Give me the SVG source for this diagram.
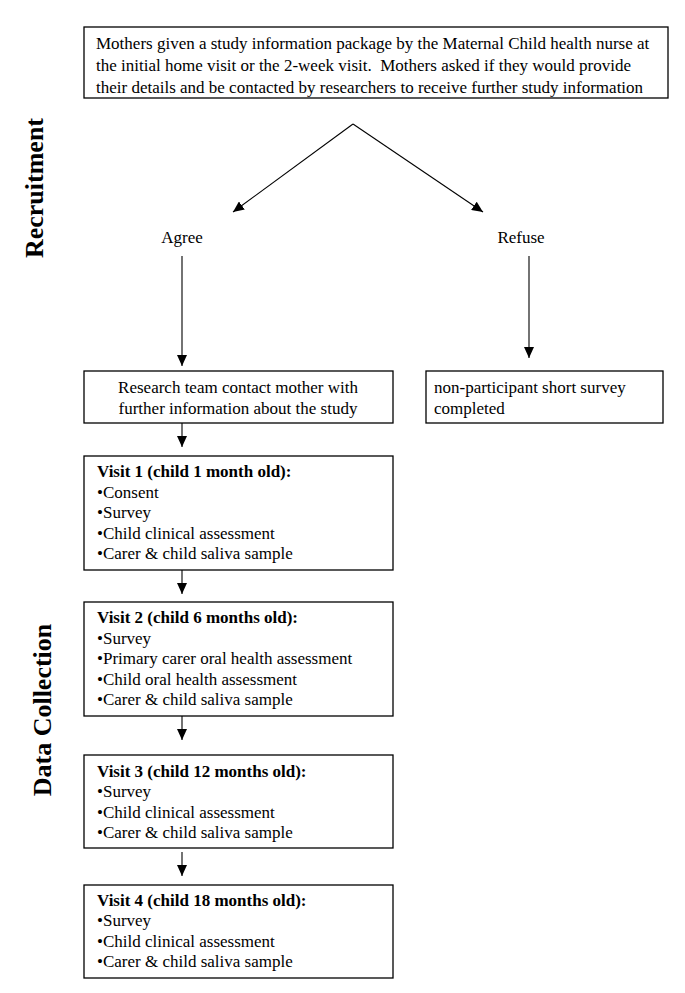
<svg xmlns="http://www.w3.org/2000/svg" width="685" height="993" viewBox="0 0 685 993">
<style>
text{font-family:"Liberation Serif","Times New Roman",serif;font-size:17px;fill:#000}
.b{font-weight:bold}
.side{font-weight:bold;font-size:26px}
.box{fill:#fff;stroke:#000;stroke-width:1.3}
.c line{stroke:#000;stroke-width:1.1;marker-end:url(#ah)}
</style>
<defs>
<marker id="ah" markerUnits="userSpaceOnUse" markerWidth="12" markerHeight="10" refX="11" refY="5" orient="auto">
<path d="M0,0 L11,5 L0,10 Z" fill="#000"/>
</marker>
</defs>
<rect width="685" height="993" fill="#fff"/>
<text class="side" transform="translate(43,188) rotate(-90)" text-anchor="middle">Recruitment</text>
<text class="side" transform="translate(51,710) rotate(-90)" text-anchor="middle">Data Collection</text>
<g id="top">
<rect class="box" x="84" y="27" width="584" height="71"/>
<text x="96" y="49">Mothers given a study information package by the Maternal Child health nurse at</text>
<text x="96" y="71">the initial home visit or the 2-week visit. &#160;Mothers asked if they would provide</text>
<text x="96" y="93">their details and be contacted by researchers to receive further study information</text>
</g>
<g id="agree"><text x="182" y="243" text-anchor="middle">Agree</text></g>
<g id="refuse"><text x="521" y="243" text-anchor="middle">Refuse</text></g>
<g id="research">
<rect class="box" x="84" y="371" width="309" height="52"/>
<text x="238" y="393" text-anchor="middle">Research team contact mother with</text>
<text x="238" y="414" text-anchor="middle">further information about the study</text>
</g>
<g id="nonpart">
<rect class="box" x="426" y="371" width="237" height="52"/>
<text x="434" y="393">non-participant short survey</text>
<text x="434" y="414">completed</text>
</g>
<g id="visit1">
<rect class="box" x="84" y="456" width="309" height="114"/>
<text x="97" y="477" class="b">Visit 1 (child 1 month old):</text>
<text x="97" y="498">•Consent</text>
<text x="97" y="518">•Survey</text>
<text x="97" y="539">•Child clinical assessment</text>
<text x="97" y="559">•Carer &amp; child saliva sample</text>
</g>
<g id="visit2">
<rect class="box" x="84" y="602" width="309" height="114"/>
<text x="97" y="623" class="b">Visit 2 (child 6 months old):</text>
<text x="97" y="644">•Survey</text>
<text x="97" y="664">•Primary carer oral health assessment</text>
<text x="97" y="685">•Child oral health assessment</text>
<text x="97" y="705">•Carer &amp; child saliva sample</text>
</g>
<g id="visit3">
<rect class="box" x="84" y="755" width="309" height="93"/>
<text x="97" y="777" class="b">Visit 3 (child 12 months old):</text>
<text x="97" y="797">•Survey</text>
<text x="97" y="818">•Child clinical assessment</text>
<text x="97" y="838">•Carer &amp; child saliva sample</text>
</g>
<g id="visit4">
<rect class="box" x="84" y="885" width="309" height="93"/>
<text x="97" y="906" class="b">Visit 4 (child 18 months old):</text>
<text x="97" y="926">•Survey</text>
<text x="97" y="947">•Child clinical assessment</text>
<text x="97" y="967">•Carer &amp; child saliva sample</text>
</g>
<g class="c" id="connectors">
<line x1="353" y1="124" x2="233" y2="212"/>
<line x1="353" y1="124" x2="483" y2="212"/>
<line x1="182" y1="256" x2="182" y2="366"/>
<line x1="529" y1="256" x2="529" y2="358"/>
<line x1="182" y1="423" x2="182" y2="447"/>
<line x1="182" y1="570" x2="182" y2="594"/>
<line x1="182" y1="716" x2="182" y2="740"/>
<line x1="182" y1="852" x2="182" y2="876"/>
</g>
</svg>
